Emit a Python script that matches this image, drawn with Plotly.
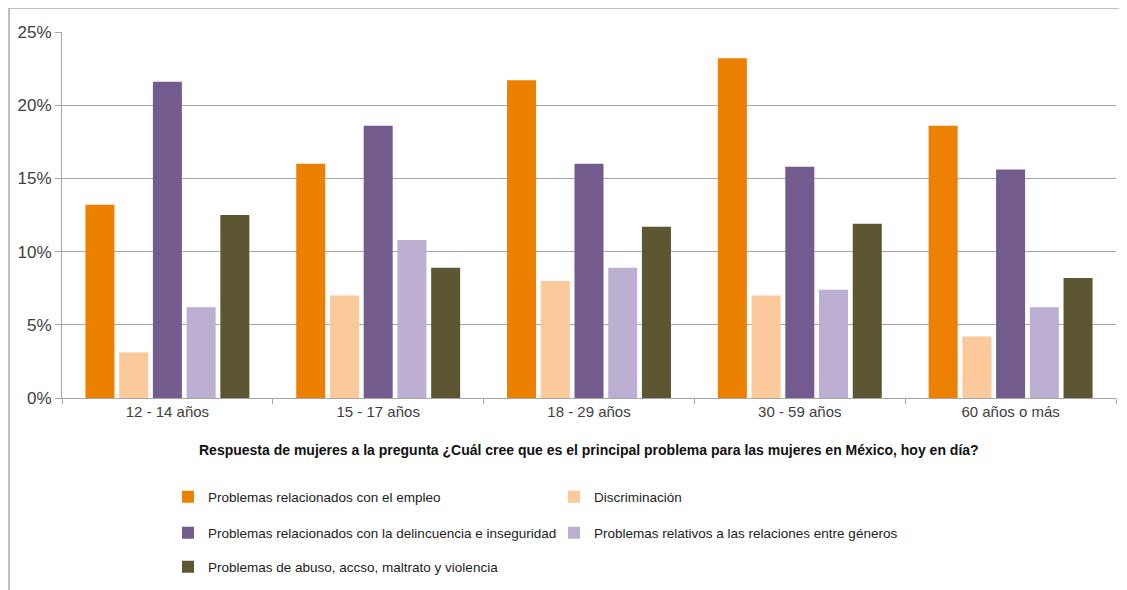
import plotly.graph_objects as go

categories = ["12 - 14 años", "15 - 17 años", "18 - 29 años", "30 - 59 años", "60 años o más"]
series_names = [
    "Problemas relacionados con el empleo",
    "Discriminación",
    "Problemas relacionados con la delincuencia e inseguridad",
    "Problemas relativos a las relaciones entre géneros",
    "Problemas de abuso, accso, maltrato y violencia",
]
empleo = [13.2, 16.0, 21.7, 23.2, 18.6]
discriminacion = [3.1, 7.0, 8.0, 7.0, 4.2]
delincuencia = [21.6, 18.6, 16.0, 15.8, 15.6]
relaciones = [6.2, 10.8, 8.9, 7.4, 6.2]
abuso = [12.5, 8.9, 11.7, 11.9, 8.2]
colors = ["#EC8000", "#FCC99A", "#735B8D", "#BCAFD1", "#5C5633"]
legend_ids = ["legend", "legend", "legend2", "legend2", "legend3"]

values = [empleo, discriminacion, delincuencia, relaciones, abuso]
y_ticks = [0, 5, 10, 15, 20, 25]

FONT = "Liberation Sans, Arial, sans-serif"

fig = go.Figure()
for name, vals, col, lg in zip(series_names, values, colors, legend_ids):
    fig.add_trace(go.Bar(x=categories, y=vals, name=name, marker_color=col,
                         marker_line_width=0, legend=lg))

OFF = 8  # page body margin
W, H = 1127 - OFF, 590 - OFF
L, T = 62 - OFF, 32 - OFF
plot_bottom = 398 - OFF
plot_right = 1116 - OFF
B = H - plot_bottom
R = W - plot_right
ph = H - T - B
pw = W - L - R

def py(pix):
    return (plot_bottom - (pix - OFF)) / ph

def px(pix):
    return ((pix - OFF) - L) / pw

legend_common = dict(orientation="h", font=dict(family=FONT, size=13.5, color="#222222"),
                     entrywidth=341, itemwidth=30, bgcolor="rgba(0,0,0,0)",
                     xanchor="left", yanchor="middle", traceorder="normal")

fig.update_layout(
    width=W, height=H,
    margin=dict(l=L, r=R, t=T, b=B, autoexpand=False),
    paper_bgcolor="white", plot_bgcolor="white",
    barmode="group", bargap=0.2, bargroupgap=0.14,
    font=dict(family=FONT, size=14, color="#404040"),
    legend=dict(x=px(168), y=py(497), **legend_common),
    legend2=dict(x=px(168), y=py(533), **legend_common),
    legend3=dict(x=px(168), y=py(567), **legend_common),
    xaxis=dict(showline=True, linecolor="#A6A6A6", linewidth=1, ticks="outside",
               tickson="boundaries", ticklen=5, tickcolor="#A6A6A6",
               tickfont=dict(family=FONT, size=15, color="#404040")),
    yaxis=dict(range=[0, 25], tickvals=y_ticks, ticktext=[f"{v}%" for v in y_ticks],
               showgrid=True, gridcolor="#A6A6A6", gridwidth=1,
               showline=True, linecolor="#A6A6A6", linewidth=1,
               ticks="outside", ticklen=6, tickcolor="#A6A6A6", zeroline=False,
               tickfont=dict(family=FONT, size=17, color="#404040")),
    annotations=[dict(
        text="<b>Respuesta de mujeres a la pregunta ¿Cuál cree que es el principal problema para las mujeres en México, hoy en día?</b>",
        xref="paper", yref="paper", x=0.5, y=py(450), xanchor="center", yanchor="middle",
        showarrow=False, font=dict(family=FONT, size=14, color="#111111"))],
    shapes=[
        dict(type="line", xref="paper", yref="paper", x0=px(8), x1=px(1127), y0=py(8), y1=py(8),
             line=dict(color="#BFBFBF", width=2)),
        dict(type="line", xref="paper", yref="paper", x0=px(9), x1=px(9), y0=py(8), y1=py(590),
             line=dict(color="#BFBFBF", width=2)),
    ],
)

fig.write_html("out.html")
